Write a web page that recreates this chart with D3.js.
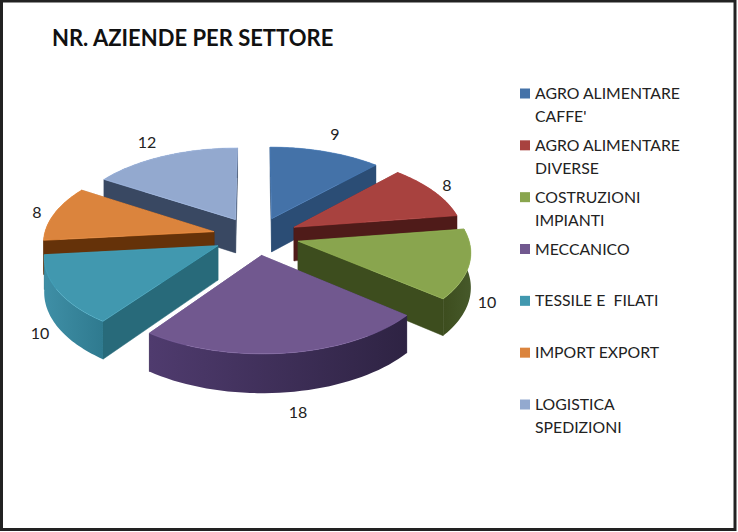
<!DOCTYPE html>
<html><head><meta charset="utf-8">
<script src="https://cdn.jsdelivr.net/npm/d3@7"></script>
<style>html,body{margin:0;padding:0;background:#fff}svg{display:block}text{font-family:Lato,'Open Sans',sans-serif}</style>
</head><body><div id="c"></div>
<script>
const title = "NR. AZIENDE PER SETTORE";
const categories = [["AGRO ALIMENTARE","CAFFE'"],["AGRO ALIMENTARE","DIVERSE"],["COSTRUZIONI","IMPIANTI"],["MECCANICO"],["TESSILE E  FILATI"],["IMPORT EXPORT"],["LOGISTICA","SPEDIZIONI"]];
const values = [9,8,10,18,10,8,12];
const topColors = ["#4472a8","#a8423f","#89a54e","#71588f","#4198af","#db843d","#93a9cf"];
const sideColors = ["#2b4d75","#4f1b19","#3d4d1e","#33274d","#286a7a","#653209","#394862"];
const rimColors = [["#2f5680","#2b4d75"],["#4f1b19","#4f1b19"],["#3d4d1e","#46592a"],["#4f3b6e","#2e2343"],["#3f8fa6","#2f7a8f"],["#653209","#653209"],["#394862","#394862"]];

const W=738,H=532;
const cx=256, cy=236, A=170, B=83, k=0.11, explodeX=0.255, explodeZ=0.23, depth=34;
const svg=d3.select("#c").append("svg").attr("width",W).attr("height",H);
svg.append("rect").attr("x",1.5).attr("y",1).attr("width",733.5).attr("height",528.5).attr("fill","#fff").attr("stroke","#222").attr("stroke-width",3);

const defs=svg.append("defs");
const pie=d3.pie().sort(null).value(d=>d);
const arcs=pie(values);
const project=(X,Z,h=0)=>{const s=1/(1-k*Z);return [cx+A*X*s, cy+B*Z*s+h*s];};
const line=d3.line();

const slices=arcs.map((a,i)=>{
  const mid=(a.startAngle+a.endAngle)/2;
  const ox=explodeX*Math.sin(mid), oz=-explodeZ*Math.cos(mid);
  const angs=d3.range(0,41).map(j=>a.startAngle+(a.endAngle-a.startAngle)*j/40);
  const pt=(r,t)=>[ox+r*Math.sin(t), oz-r*Math.cos(t)];
  return {i,angs,pt,depthKey:oz};
}).sort((p,q)=>p.depthKey-q.depthKey);

const g=svg.append("g");
slices.forEach(s=>{
  const {i,angs,pt}=s;
  const top=h=>angs.map(t=>{const p=pt(1,t);return project(p[0],p[1],h);});
  const apex=h=>{const p=pt(0,0);return project(p[0],p[1],h);};
  const t0=top(0), t1=top(depth);
  const ap0=apex(0), ap1=apex(depth);
  const grp=g.append("g");
  const wall=(a,b,c,d)=>grp.append("path").attr("d",line([a,b,c,d])+"Z").attr("fill",sideColors[i]).attr("stroke",sideColors[i]).attr("stroke-width",.5);
  const ws=[
    {y:(ap0[1]+t0[0][1])/2,f:()=>wall(ap0,t0[0],t1[0],ap1)},
    {y:(ap0[1]+t0[40][1])/2,f:()=>wall(ap0,t0[40],t1[40],ap1)},
    {y:d3.mean(t0,d=>d[1]),f:()=>{
      const id="rim"+i;
      const lg=defs.append("linearGradient").attr("id",id).attr("gradientUnits","userSpaceOnUse")
        .attr("x1",d3.min(t0,d=>d[0])).attr("x2",d3.max(t0,d=>d[0])).attr("y1",0).attr("y2",0);
      lg.append("stop").attr("offset",0).attr("stop-color",rimColors[i][0]);
      lg.append("stop").attr("offset",1).attr("stop-color",rimColors[i][1]);
      grp.append("path").attr("d",line(t0.concat(t1.slice().reverse()))+"Z").attr("fill","url(#"+id+")");
    }}
  ].sort((a,b)=>a.y-b.y);
  ws.forEach(w=>w.f());
  grp.append("path").attr("d",line([ap0].concat(t0))+"Z").attr("fill",topColors[i]).attr("stroke",d3.color(topColors[i]).brighter(.4)).attr("stroke-width",.6);
});

// value labels
const labelPos=[[335,134],[447,185],[487,302],[298,412],[40,333],[37,212],[147,142]];
svg.append("g").selectAll("text").data(values).join("text")
  .attr("x",(d,i)=>labelPos[i][0]).attr("y",(d,i)=>labelPos[i][1]).attr("dy","0.35em")
  .attr("text-anchor","middle").attr("font-size",16).attr("fill","#222").text(d=>d);

svg.append("text").attr("x",52).attr("y",46).attr("font-size",22).attr("font-weight",700).attr("fill","#111").text(title);

const ly=d3.scalePoint().domain(d3.range(categories.length)).range([93.5,404.5]);
const leg=svg.append("g").selectAll("g").data(categories).join("g").attr("transform",(d,i)=>`translate(520,${ly(i)})`);
leg.append("rect").attr("x",0).attr("y",-5).attr("width",10).attr("height",10).attr("fill",(d,i)=>topColors[i]);
leg.each(function(d){
  const t=d3.select(this).append("text").attr("font-size",15.8).attr("fill","#222");
  d.forEach((s,j)=>t.append("tspan").attr("x",15).attr("y",j*23).attr("dy","0.35em").style("white-space","pre").text(s));
});
</script></body></html>
